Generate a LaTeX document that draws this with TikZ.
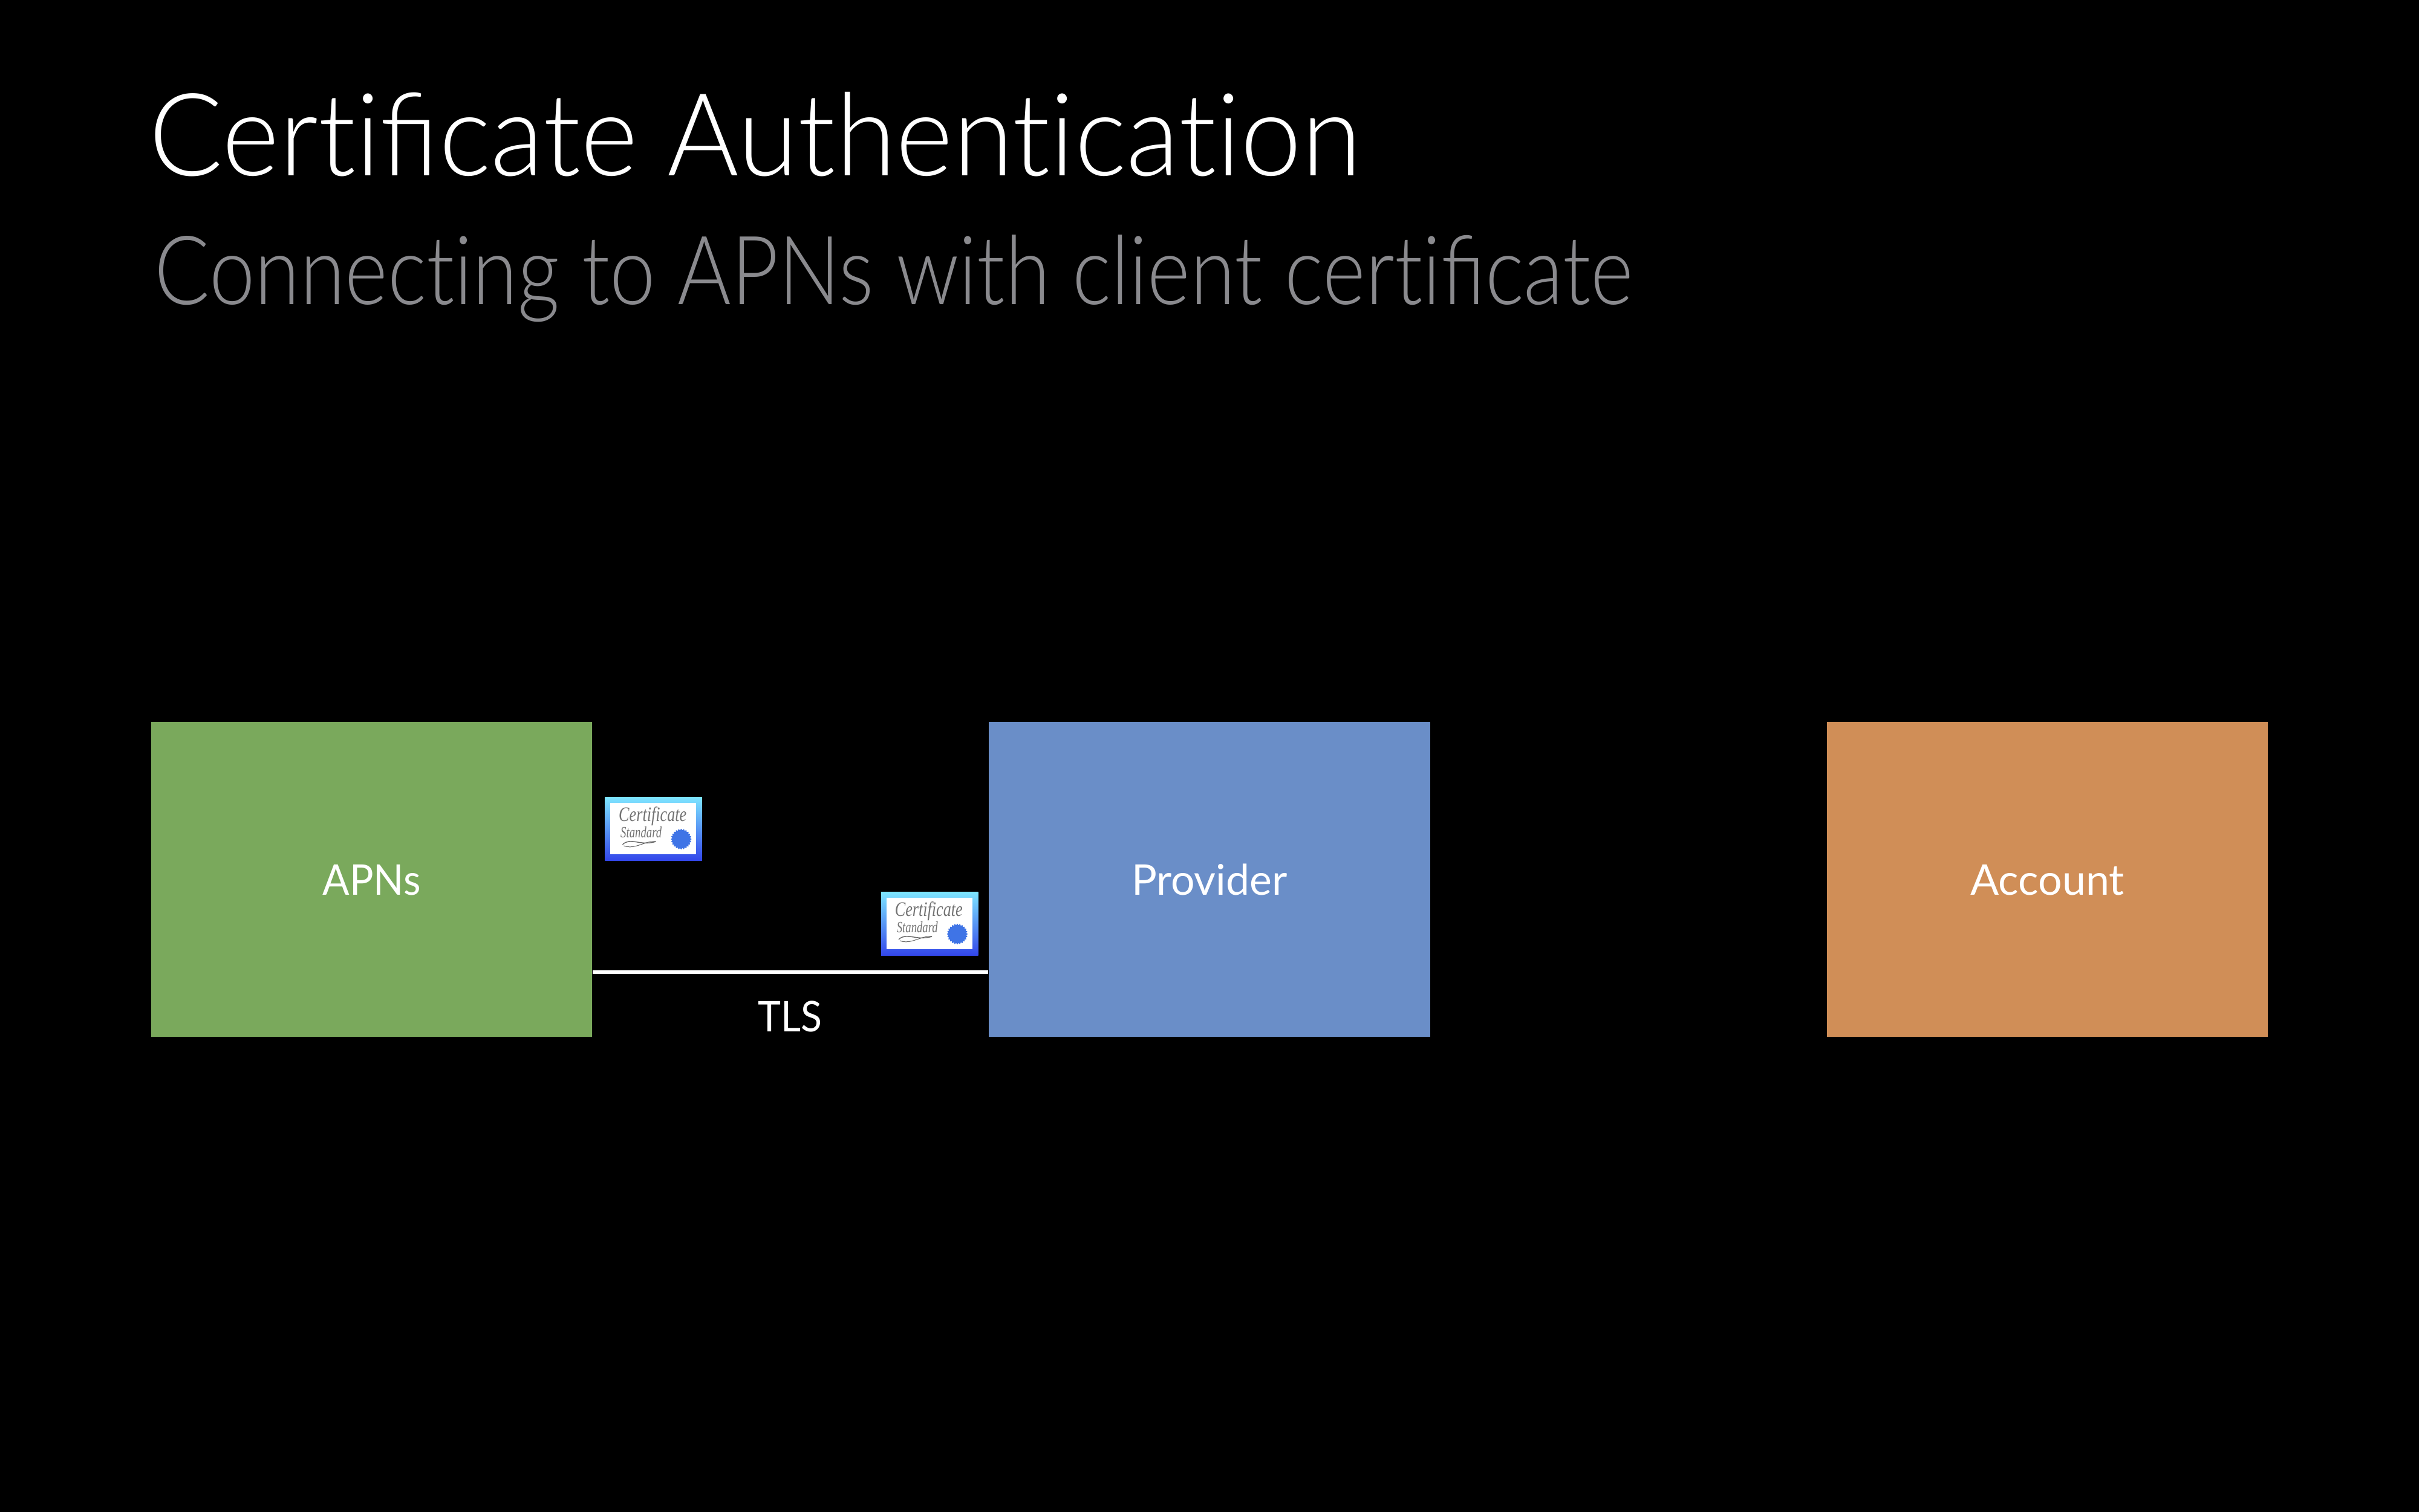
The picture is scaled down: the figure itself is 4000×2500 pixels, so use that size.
\documentclass[tikz,border=0pt]{standalone}
\usepackage{fontspec}
\setmainfont{Lato Light}
\newfontfamily\labelfont{Lato}
\newfontfamily\certfont{Liberation Serif}
\usetikzlibrary{calc}
\definecolor{subgray}{HTML}{8A8A8E}
\definecolor{apnsgreen}{HTML}{7AA95C}
\definecolor{provblue}{HTML}{6A8EC8}
\definecolor{acctorange}{HTML}{D08E57}
\definecolor{certtop}{HTML}{7EE6FF}
\definecolor{certbot}{HTML}{3347EA}
\definecolor{sealblue}{HTML}{3F74E6}
\newcommand{\fitw}[2]{\resizebox{#1}{\height}{#2}}
\newcommand{\nolig}{\kern0pt }
\tikzset{
  x=0.25pt,y=-0.25pt,
  box/.style={rectangle,draw=none,fill=#1,minimum width=182.4pt,minimum height=130.2pt,inner sep=0pt,
    text=white,font=\labelfont\fontsize{17.5pt}{20pt}\selectfont,text height=12.8pt,text depth=0pt},
  heading/.style={anchor=base west,inner sep=0pt,text=white},
  link/.style={draw=white,line width=1.6pt},
  certtext/.style={anchor=base west,inner sep=0pt,text=black!55,font=\certfont\itshape},
  pics/certificate/.style={code={
    \shade[top color=certtop,bottom color=certbot] (0,0) rectangle (160.5,105);
    \fill[white] (9,9.5) rectangle (151,95);
    \node[certtext] (word) at (22,40) {\fitw{28pt}{\fontsize{8.5pt}{9pt}\selectfont Certificate}};
    \node[certtext] (grade) at (25,67) {\fitw{17pt}{\fontsize{6.5pt}{7pt}\selectfont Standard}};
    \fill[sealblue,shift={(126,70)}] plot[samples=121,domain=0:360] (\x:{16+1.1*cos(24*\x)}) -- cycle;
    \draw[black!60,line width=0.35pt] (29,79) .. controls (42,66) and (58,82) .. (84,74);
    \draw[black!60,line width=0.25pt] (31,81) .. controls (50,88) and (66,72) .. (84,74);
  }}
}
\begin{document}
\begin{tikzpicture}
\useasboundingbox (0,0) rectangle (4000,2500);
\fill[black] (-20,-20) rectangle (4020,2520);
\node[heading,font=\fontsize{47.5pt}{50pt}\selectfont] (title) at (246,290) {\fitw{501pt}{Cert\nolig ificate Authent\nolig icat\nolig ion}};
\node[heading,text=subgray,font=\fontsize{39.5pt}{42pt}\selectfont] (subtitle) at (255,503) {\fitw{611pt}{Connect\nolig ing to APNs with client cert\nolig ificate}};
\node[box=apnsgreen] (apns) at (614.5,1454.5) {\fitw{40.5pt}{APNs}};
\node[box=provblue] (provider) at (2000,1454.5) {\fitw{64.5pt}{Provider}};
\node[box=acctorange] (account) at (3385.5,1454.5) {\fitw{63.5pt}{Account}};
\draw[link] ([yshift=27pt]apns.south east) -- ([yshift=27pt]provider.south west);
\node[anchor=base west,inner sep=0pt,text=white,font=\labelfont\fontsize{17.5pt}{20pt}\selectfont] (tls) at (1253,1706) {\fitw{26.5pt}{TLS}};
\pic (certA) at (1000.4,1318) {certificate};
\pic (certB) at (1457,1475) {certificate};
\end{tikzpicture}
\end{document}
